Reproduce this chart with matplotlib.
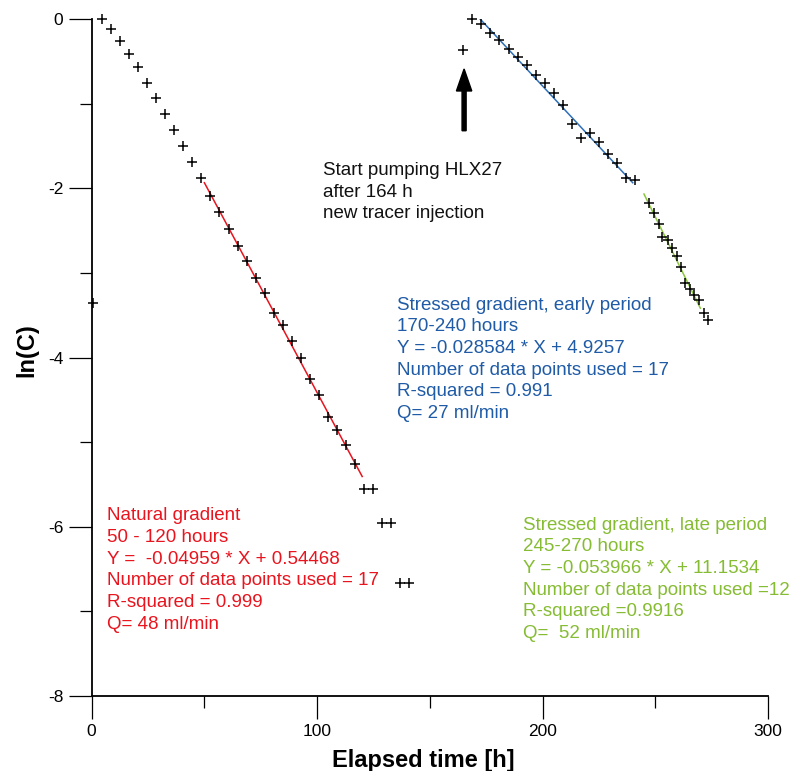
import matplotlib
matplotlib.use("Agg")
import matplotlib.pyplot as plt
from matplotlib.ticker import MultipleLocator

plt.rcParams["font.family"] = ["Liberation Sans", "DejaVu Sans"]
plt.rcParams["axes.unicode_minus"] = False

# natural gradient phase (first injection)
t_natural = [0.8, 4.7, 8.7, 12.7, 16.7, 20.7, 24.7, 28.7, 32.7, 36.7, 40.7, 44.7,
             48.7, 52.7, 56.7, 60.7, 64.7, 68.7, 72.7, 76.7, 80.7, 84.7, 88.7, 92.7,
             96.7, 100.7, 104.7, 108.7, 112.7, 116.7, 120.7, 124.7, 128.7, 132.7,
             136.7, 140.7]
lnc_natural = [-3.36, 0.0, -0.12, -0.26, -0.41, -0.57, -0.75, -0.93, -1.12, -1.31,
               -1.50, -1.69, -1.88, -2.09, -2.28, -2.48, -2.68, -2.86, -3.06, -3.24,
               -3.47, -3.61, -3.81, -4.01, -4.25, -4.44, -4.70, -4.86, -5.03, -5.26,
               -5.55, -5.55, -5.96, -5.96, -6.66, -6.66]

# pumping phase, second tracer injection
t_stressed = [164.8, 168.8, 172.9, 176.9, 180.9, 184.9, 188.9, 192.9, 196.9, 200.9,
              204.9, 208.9, 212.9, 216.9, 220.9, 224.9, 228.9, 232.9, 236.9, 240.9]
lnc_stressed = [-0.37, 0.0, -0.06, -0.16, -0.25, -0.35, -0.45, -0.54, -0.66, -0.75,
                -0.87, -1.01, -1.24, -1.40, -1.35, -1.45, -1.59, -1.70, -1.88, -1.90]

t_late = [247.4, 249.4, 251.5, 253.2, 255.5, 257.3, 259.5, 261.3, 263.3, 265.4,
          267.3, 269.3, 271.6, 273.5]
lnc_late = [-2.17, -2.29, -2.42, -2.57, -2.61, -2.71, -2.80, -2.93, -3.12, -3.19,
            -3.26, -3.32, -3.47, -3.56]

# linear fits: (slope, intercept, t_start, t_end)
fit_natural = (-0.04959, 0.54468, 50, 120)
fit_early = (-0.028584, 4.9257, 170, 240)
fit_late = (-0.053966, 11.1534, 245, 270)

red = "#e8141e"
blue = "#1f5ba6"
green = "#86bc34"

text_natural = ("Natural gradient\n50 - 120 hours\nY =  -0.04959 * X + 0.54468\n"
                "Number of data points used = 17\nR-squared = 0.999\nQ= 48 ml/min")
text_early = ("Stressed gradient, early period\n170-240 hours\nY = -0.028584 * X + 4.9257\n"
              "Number of data points used = 17\nR-squared = 0.991\nQ= 27 ml/min")
text_late = ("Stressed gradient, late period\n245-270 hours\nY = -0.053966 * X + 11.1534\n"
             "Number of data points used =12\nR-squared =0.9916\nQ=  52 ml/min")
text_pump = "Start pumping HLX27\nafter 164 h\nnew tracer injection"

fig = plt.figure(figsize=(7.91, 7.71), dpi=100)
ax = fig.add_axes([0.1159, 0.0973, 0.855, 0.878])


def draw_fit(fit, color):
    slope, intercept, t0, t1 = fit
    ax.plot([t0, t1], [slope * t0 + intercept, slope * t1 + intercept],
            color=color, lw=1.1, zorder=2)


draw_fit(fit_natural, red)
draw_fit(fit_early, "#2f70b8")
draw_fit(fit_late, "#8cc63f")

for t, y in [(t_natural, lnc_natural), (t_stressed, lnc_stressed), (t_late, lnc_late)]:
    ax.plot(t, y, ls="none", marker="+", ms=6.5, mew=1.1, color="black",
            clip_on=False, zorder=3)

# arrow marking the start of pumping
ax.arrow(165.2, -1.32, 0, 0.73, width=1.8, head_width=6.8, head_length=0.26,
         length_includes_head=True, color="black", zorder=3)

label_style = dict(fontsize=13.5, va="center", linespacing=1.36)
ax.text(6.6, -6.51, text_natural, color=red, **label_style)
ax.text(135.3, -4.02, text_early, color=blue, **label_style)
ax.text(191.2, -6.62, text_late, color=green, **label_style)
ax.text(102.7, -2.045, text_pump, color="#111111", **label_style)

ax.set_xlim(0, 300)
ax.set_ylim(-8, 0)
ax.xaxis.set_major_locator(MultipleLocator(100))
ax.xaxis.set_minor_locator(MultipleLocator(50))
ax.yaxis.set_major_locator(MultipleLocator(2))
ax.yaxis.set_minor_locator(MultipleLocator(1))

for side in ["top", "right"]:
    ax.spines[side].set_visible(False)
for side in ["left", "bottom"]:
    ax.spines[side].set_linewidth(1.3)

ax.tick_params(which="major", direction="out", length=16.5, width=0.9,
               labelsize=12.5, pad=4)
ax.tick_params(which="minor", direction="out", length=8.5, width=0.9)

ax.set_xlabel("Elapsed time [h]", fontsize=17, fontweight="bold")
ax.set_ylabel("ln(C)", fontsize=17, fontweight="bold")
ax.xaxis.set_label_coords(0.491, -0.078)
ax.yaxis.set_label_coords(-0.079, 0.511)

fig.savefig("out.png", dpi=100)
